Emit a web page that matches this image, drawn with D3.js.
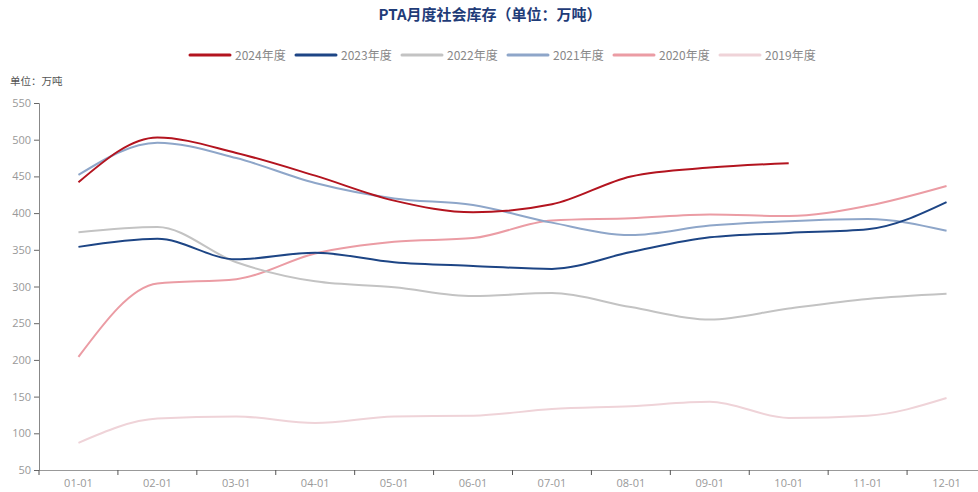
<!DOCTYPE html>
<html><head><meta charset="utf-8">
<script src="https://cdn.jsdelivr.net/npm/d3@7"></script>
<style>body{margin:0;background:#fff;}svg{display:block;}</style>
</head><body>
<svg id="c" width="978" height="492"></svg>
<script>
const months = ["01-01","02-01","03-01","04-01","05-01","06-01","07-01","08-01","09-01","10-01","11-01","12-01"];
const yTicks = [50,100,150,200,250,300,350,400,450,500,550];
const seriesNames = ["2024年度","2023年度","2022年度","2021年度","2020年度","2019年度"];
const s2024 = [442, 503, 482, 451, 417, 401, 412, 450, 462, 468];
const s2023 = [354, 365, 337, 346, 333, 328, 324, 347, 367, 373, 378, 415];
const s2022 = [374, 381, 333, 307, 299, 287, 291, 272, 255, 270, 283, 290];
const s2021 = [452, 496, 475, 441, 420, 411, 387, 370, 383, 389, 392, 376];
const s2020 = [204, 304, 310, 345, 361, 366, 390, 393, 398, 396, 410, 437];
const s2019 = [87, 120, 123, 114, 123, 124, 133, 137, 143, 121, 124, 148];
const colors = ["#b3141f","#1d4585","#c3c3c3","#8ea6c9","#eb9ca4","#efd3d8"];
const widths = [2,2,2,2,2,2];

const data = [s2024,s2023,s2022,s2021,s2020,s2019];
const svg = d3.select("#c");
const x = d3.scaleBand().domain(months).range([39, 986]);
const y = d3.scaleLinear().domain([50,550]).range([470,103]);

// title
svg.append("text").attr("x",490).attr("y",20).attr("text-anchor","middle")
  .attr("font-family","'Noto Sans CJK SC'").attr("font-weight","bold").attr("font-size",15)
  .attr("fill","#1f3c78").text("PTA月度社会库存（单位：万吨）");

// legend
const lg = svg.append("g");
seriesNames.forEach((n,i)=>{
  const lx = 190 + i*106;
  lg.append("line").attr("x1",lx).attr("x2",lx+40).attr("y1",55).attr("y2",55)
    .attr("stroke",colors[i]).attr("stroke-width",3).attr("stroke-linecap","round");
  lg.append("text").attr("x",lx+45).attr("y",59.5).attr("font-size",12)
    .attr("font-family","'Noto Sans CJK SC'").attr("fill","#888").text(n);
});

// unit
svg.append("text").attr("x",10).attr("y",85).attr("font-size",10.5)
  .attr("font-family","'Noto Sans CJK SC'").attr("fill","#555").text("单位：万吨");

// y axis
const ya = svg.append("g").attr("transform","translate(39,0)")
  .call(d3.axisLeft(y).tickValues(yTicks).tickSize(5).tickPadding(3));
ya.select(".domain").attr("stroke","#888");
ya.selectAll(".tick line").attr("stroke","#666");
ya.selectAll("text").attr("fill","#999").attr("font-size",11).attr("font-family","'Open Sans', sans-serif");

// x axis
const xa = svg.append("g").attr("transform","translate(0,470)")
  .call(d3.axisBottom(x).tickSize(0).tickPadding(9));
xa.select(".domain").attr("stroke","#999");
xa.selectAll("text").attr("fill","#999").attr("font-size",11).attr("font-family","'Open Sans', sans-serif");
const bounds = months.map(m=>x(m)).concat([x.range()[1]]);
xa.selectAll(".bt").data(bounds).enter().append("line").attr("class","bt")
  .attr("x1",d=>d).attr("x2",d=>d).attr("y1",0).attr("y2",5).attr("stroke","#555");

// lines
const line = d3.line().x((d,i)=>x(months[i])+x.bandwidth()/2).y(d=>y(d)).curve(d3.curveMonotoneX);
for (let i=data.length-1;i>=0;i--){
  svg.append("path").attr("d",line(data[i])).attr("fill","none")
    .attr("stroke",colors[i]).attr("stroke-width",widths[i]);
}
</script>
</body></html>
